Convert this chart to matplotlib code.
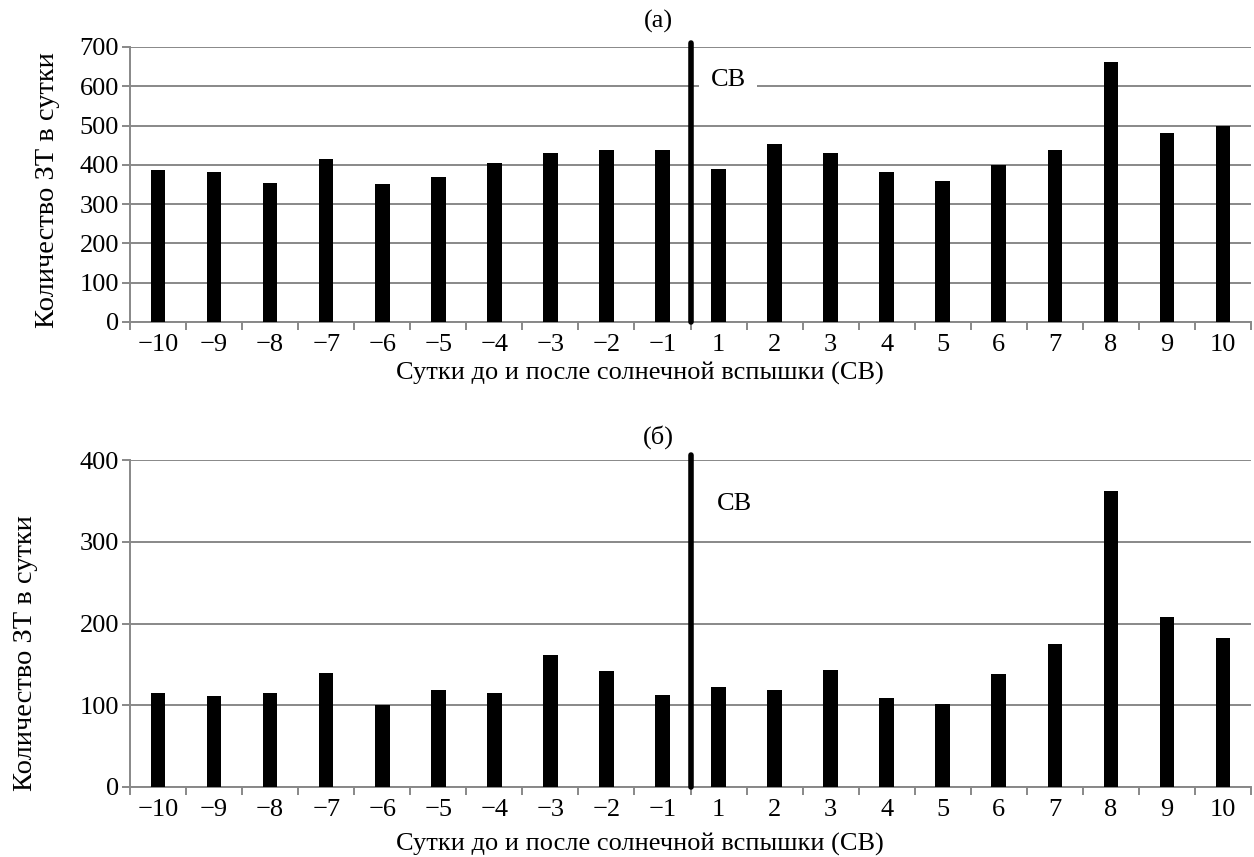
import numpy as np
import matplotlib
matplotlib.use("Agg")
import matplotlib.pyplot as plt
from matplotlib.ticker import FixedLocator

plt.rcParams['font.family'] = ['Liberation Serif', 'DejaVu Serif']

# days before / after the solar flare
days = ['\u221210', '\u22129', '\u22128', '\u22127', '\u22126', '\u22125', '\u22124', '\u22123', '\u22122', '\u22121',
        '1', '2', '3', '4', '5', '6', '7', '8', '9', '10']

# (а) number of earthquakes per day
counts_a = [387, 381, 353, 414, 351, 368, 404, 429, 437, 437,
            389, 453, 429, 383, 359, 399, 437, 661, 480, 500]

# (б) number of earthquakes per day
counts_b = [115, 111, 115, 140, 100, 119, 115, 161, 142, 113,
            122, 119, 143, 109, 102, 138, 175, 362, 208, 182]

flare_pos = 9.5      # flare between day -1 and day 1
ylabel = 'Количество ЗТ в сутки'
xlabel = 'Сутки до и после солнечной вспышки (СВ)'
grid_col = '#888888'
fs = 19


def draw(ax, counts, ymax, title, line_top):
    x = np.arange(len(counts))
    ax.bar(x, counts, width=0.26, color='black', zorder=3)
    ax.set_xlim(-0.5, len(counts) - 0.5)
    ax.set_ylim(0, ymax)
    ax.set_yticks(np.arange(0, ymax + 1, 100))
    ax.set_xticks(x)
    ax.set_xticklabels(days)
    ax.xaxis.set_minor_locator(FixedLocator(np.arange(-0.5, len(counts), 1.0)))
    ax.tick_params(axis='x', which='major', length=0, pad=9, labelsize=fs)
    ax.tick_params(axis='x', which='minor', length=6, color=grid_col, width=1.4)
    ax.tick_params(axis='y', length=6, color=grid_col, width=1.4, pad=2, labelsize=fs)
    ax.yaxis.grid(True, color=grid_col, linewidth=1.4, zorder=0)
    for s in ['top', 'right']:
        ax.spines[s].set_visible(False)
    for s in ['left', 'bottom']:
        ax.spines[s].set_color(grid_col)
        ax.spines[s].set_linewidth(1.4)
        ax.spines[s].set_zorder(1)
    # flare marker
    ax.plot([flare_pos, flare_pos], [0, line_top], color='black', linewidth=4,
            solid_capstyle='round', clip_on=False, zorder=4)
    ax.set_xlabel(xlabel, fontsize=fs)
    ax.set_ylabel(ylabel, fontsize=20.5)


fig = plt.figure(figsize=(12.54, 8.57), dpi=100)
ax1 = fig.add_axes([0.1037, 0.6243, 0.8939, 0.3209])
ax2 = fig.add_axes([0.1037, 0.0817, 0.8939, 0.3815])

draw(ax1, counts_a, 700, '(a)', 710)
draw(ax2, counts_b, 400, '(б)', 406)

ax1.text(10.17, 600, 'СВ', fontsize=fs, ha='center', va='baseline', zorder=5,
         bbox=dict(facecolor='white', edgecolor='none', pad=8))
ax2.text(10.29, 346, 'СВ', fontsize=fs, ha='center', va='center', zorder=5)

ax1.set_title('(a)', fontsize=fs, x=0.471, pad=14)
ax2.set_title('(б)', fontsize=fs, x=0.471, pad=12)
ax1.xaxis.set_label_coords(0.455, -0.145)
ax2.xaxis.set_label_coords(0.455, -0.14)
ax1.yaxis.set_label_coords(-0.0624, 0.48)
ax2.yaxis.set_label_coords(-0.082, 0.41)

fig.savefig('out.png', dpi=100)
